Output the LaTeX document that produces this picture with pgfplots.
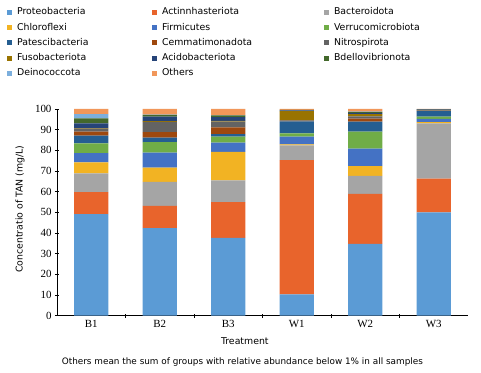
\documentclass[border=0pt]{standalone}
\usepackage{pgfplots}
\pgfplotsset{compat=1.18}
\usepackage{pgfplotstable}
\usepackage{fontspec}
\setmainfont{Liberation Serif}
\setsansfont{DejaVu Sans}
\definecolor{cPro}{HTML}{5B9BD5}
\definecolor{cAct}{HTML}{E8642C}
\definecolor{cBac}{HTML}{A5A5A5}
\definecolor{cChl}{HTML}{F2B323}
\definecolor{cFir}{HTML}{4472C4}
\definecolor{cVer}{HTML}{70AD47}
\definecolor{cPat}{HTML}{255E91}
\definecolor{cCem}{HTML}{9E480E}
\definecolor{cNit}{HTML}{636363}
\definecolor{cFus}{HTML}{997300}
\definecolor{cAci}{HTML}{264478}
\definecolor{cBde}{HTML}{43682B}
\definecolor{cDei}{HTML}{7CAFDD}
\definecolor{cOth}{HTML}{F1975A}
\pgfplotstableread{
x Pro Act Bac Chl Fir Ver Pat Cem Nit Fus Aci Bde Dei Oth
0 49.2 10.6 9.1 5.3 4.4 4.8 3.7 1.9 1.5 0.3 2.3 2.4 2.0 2.5
1 42.4 10.7 11.6 6.9 7.3 5.1 2.1 2.7 5.0 0.3 2.2 0.8 0.2 2.7
2 37.7 17.3 10.5 13.8 4.4 2.9 1.2 3.3 2.8 0.3 1.9 0.8 0.1 3.0
3 10.3 65.0 7.1 0.5 3.7 1.6 5.8 0.3 0.2 4.5 0.3 0.3 0.0 0.4
4 34.7 24.2 8.7 4.8 8.4 8.2 4.9 1.4 1.1 1.1 0.6 0.5 0.1 1.3
5 50.0 16.3 26.8 0.6 1.5 1.1 2.7 0.1 0.2 0.3 0.2 0.1 0.0 0.1
}\datatable
\newcommand{\la}[1]{\makebox[135bp][l]{#1}}
\newcommand{\lb}[1]{\makebox[162bp][l]{#1}}
\newcommand{\sfs}{\sffamily\fontsize{9.4}{11}\selectfont}
\begin{document}
\begin{tikzpicture}
\useasboundingbox (0,0) rectangle (481bp,373bp);
\begin{axis}[
  at={(57bp,57.3bp)}, anchor=south west,
  scale only axis, width=411bp, height=206.7bp,
  clip=false,
  ybar stacked, bar width=0.5,
  xmin=-0.5, xmax=5.5, ymin=0, ymax=100,
  axis x line*=bottom, axis y line*=left,
  ytick={0,10,...,100},
  xtick={0.5,1.5,2.5,3.5,4.5}, xticklabels={},
  extra x ticks={0,1,2,3,4,5},
  extra x tick labels={B1,B2,B3,W1,W2,W3},
  extra x tick style={major tick length=0pt},
  tick align=center, major tick length=4bp,
  tick style={black, line width=0.5pt},
  axis line style={black, line width=0.6pt},
  /pgf/number format/assume math mode=true,
  tick label style={font=\rmfamily\fontsize{11}{12}\selectfont},
  x tick label style={yshift=-1bp},
  ylabel={Concentratio of TAN (mg/L)},
  ylabel style={font=\sfs, at={(axis description cs:-0.09,0.515)}, anchor=center},
  xlabel={Treatment},
  xlabel style={font=\sfs, at={(axis description cs:0.457,-0.122)}, anchor=center},
  legend columns=3,
  legend style={at={(axis description cs:-0.122,1.491)}, anchor=north west,
    draw=none, fill=none, inner sep=0pt, row sep=6.1bp,
    font=\sfs,
    nodes={inner sep=0pt, text height=7bp, text depth=2.2bp},
    /tikz/every odd column/.style={column sep=5bp}},
  legend cell align=left,
  legend image code/.code={\fill[#1, draw=none] (0bp,-2.5bp) rectangle (5bp,2.5bp);},
  every axis plot/.append style={draw=none},
]
\addplot+[fill=cPro] table[x=x,y=Pro]{\datatable};
\addplot+[fill=cAct] table[x=x,y=Act]{\datatable};
\addplot+[fill=cBac] table[x=x,y=Bac]{\datatable};
\addplot+[fill=cChl] table[x=x,y=Chl]{\datatable};
\addplot+[fill=cFir] table[x=x,y=Fir]{\datatable};
\addplot+[fill=cVer] table[x=x,y=Ver]{\datatable};
\addplot+[fill=cPat] table[x=x,y=Pat]{\datatable};
\addplot+[fill=cCem] table[x=x,y=Cem]{\datatable};
\addplot+[fill=cNit] table[x=x,y=Nit]{\datatable};
\addplot+[fill=cFus] table[x=x,y=Fus]{\datatable};
\addplot+[fill=cAci] table[x=x,y=Aci]{\datatable};
\addplot+[fill=cBde] table[x=x,y=Bde]{\datatable};
\addplot+[fill=cDei] table[x=x,y=Dei]{\datatable};
\addplot+[fill=cOth] table[x=x,y=Oth]{\datatable};
\legend{\la{Proteobacteria},\lb{Actinnhasteriota},Bacteroidota,
  \la{Chloroflexi},\lb{Firmicutes},Verrucomicrobiota,
  \la{Patescibacteria},\lb{Cemmatimonadota},Nitrospirota,
  \la{Fusobacteriota},\lb{Acidobacteriota},Bdellovibrionota,
  \la{Deinococcota},\lb{Others}}
\node[font=\sffamily\fontsize{8.9}{10}\selectfont, anchor=center] at (axis description cs:0.451,-0.2225) {Others mean the sum of groups with relative abundance below 1\% in all samples};
\end{axis}
\end{tikzpicture}
\end{document}
